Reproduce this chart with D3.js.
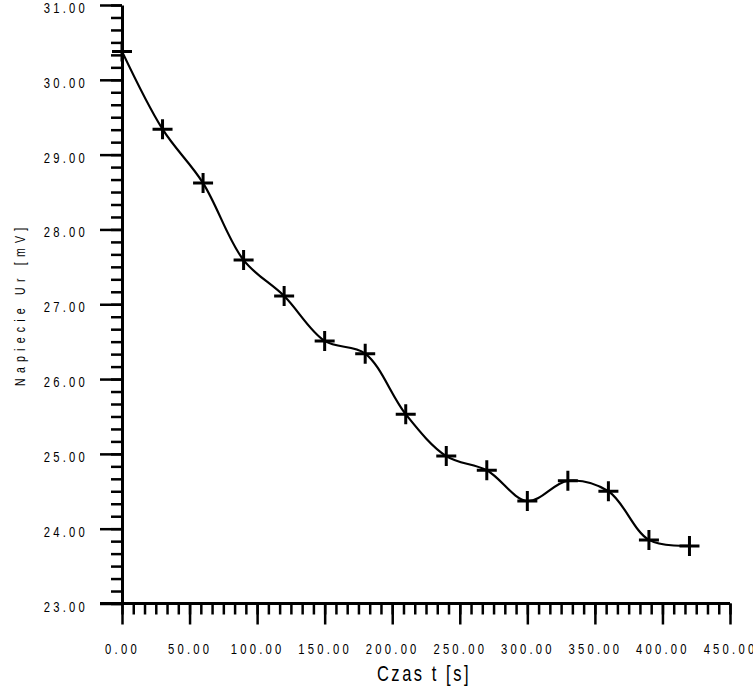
<!DOCTYPE html>
<html>
<head>
<meta charset="utf-8">
<script src="https://cdn.jsdelivr.net/npm/d3@7"></script>
<style>
  html, body { margin: 0; padding: 0; background: #fff; }
  svg { display: block; }
  .lbl { font-family: "Liberation Sans", Arial, sans-serif; fill: #000; }
</style>
</head>
<body>
<div id="vis"></div>
<script>
// measurement: time in seconds, voltage in mV
var times = [0, 30, 60, 90, 120, 150, 180, 210, 240, 270, 300, 330, 360, 390, 420];
var voltage = [30.38, 29.34, 28.62, 27.59, 27.11, 26.51, 26.34, 25.53, 24.97, 24.78, 24.37, 24.64, 24.50, 23.85, 23.77];

var xTicks = [0, 50, 100, 150, 200, 250, 300, 350, 400, 450];
var yTicks = [23, 24, 25, 26, 27, 28, 29, 30, 31];

var xTitle = "Czas t [s]";
var yTitle = "Napiecie Ur [mV]";

var width = 753, height = 686;
var narrow = 0.75;   // squeeze glyphs horizontally, the original font is condensed

var svg = d3.select("#vis").append("svg")
  .attr("width", width)
  .attr("height", height);

var x = d3.scaleLinear().domain([0, 450]).range([122, 730]);
var y = d3.scaleLinear().domain([23, 31]).range([603.5, 5]);

var fmt = d3.format(".2f");

// minor ticks, 6 per interval
var xMinor = d3.range(0, 55).map(function(i) { return i * 50 / 6; });
var yMinor = d3.range(0, 49).map(function(i) { return 23 + i / 6; });

// y axis minor
svg.append("g")
  .attr("transform", "translate(" + x(0) + ",0)")
  .call(d3.axisLeft(y).tickValues(yMinor).tickSize(11).tickSizeOuter(0).tickFormat(""))
  .call(function(g) { g.select(".domain").remove(); })
  .selectAll("line").attr("stroke", "#000").attr("stroke-width", 2.5);

// y axis major
var gy = svg.append("g")
  .attr("transform", "translate(" + x(0) + ",0)")
  .call(d3.axisLeft(y).tickValues(yTicks).tickSize(22).tickSizeOuter(0).tickPadding(12).tickFormat(fmt));
gy.select(".domain").attr("stroke", "#000").attr("stroke-width", 3);
gy.selectAll("line").attr("stroke", "#000").attr("stroke-width", 2.5);
gy.selectAll("text")
  .attr("class", "lbl")
  .attr("font-size", 15)
  .attr("x", null)
  .attr("dy", "0.5em")
  .attr("transform", "translate(-34,0) scale(" + narrow + ",1)")
  .style("letter-spacing", "4.3px");

// x axis minor
svg.append("g")
  .attr("transform", "translate(0," + y(23) + ")")
  .call(d3.axisBottom(x).tickValues(xMinor).tickSize(11).tickSizeOuter(0).tickFormat(""))
  .call(function(g) { g.select(".domain").remove(); })
  .selectAll("line").attr("stroke", "#000").attr("stroke-width", 2.5);

// x axis major
var gx = svg.append("g")
  .attr("transform", "translate(0," + y(23) + ")")
  .call(d3.axisBottom(x).tickValues(xTicks).tickSize(21).tickSizeOuter(0).tickPadding(19).tickFormat(fmt));
gx.select(".domain").remove();
gx.selectAll("line").attr("stroke", "#000").attr("stroke-width", 2.5);
gx.selectAll("text")
  .attr("class", "lbl")
  .attr("font-size", 15)
  .attr("y", null)
  .attr("transform", "translate(0,40) scale(" + narrow + ",1)")
  .style("letter-spacing", "4.3px");

// x axis base line, reaching left to the y major tick
svg.append("line")
  .attr("x1", x(0) - 22).attr("x2", x(450))
  .attr("y1", y(23)).attr("y2", y(23))
  .attr("stroke", "#000").attr("stroke-width", 3);

// titles
svg.append("text")
  .attr("class", "lbl")
  .attr("transform", "translate(" + ((x(0) + x(450)) / 2 - 2) + ",681) scale(" + narrow + ",1)")
  .attr("text-anchor", "middle")
  .attr("font-size", 22)
  .style("letter-spacing", "3.4px")
  .text(xTitle);

svg.append("text")
  .attr("class", "lbl")
  .attr("transform", "translate(25," + ((y(23) + y(31)) / 2) + ") rotate(-90) scale(" + narrow + ",1)")
  .attr("text-anchor", "middle")
  .attr("font-size", 14)
  .style("letter-spacing", "7px")
  .text(yTitle);

// smooth curve
var data = times.map(function(t, i) { return {t: t, v: voltage[i]}; });

var line = d3.line()
  .x(function(d) { return x(d.t); })
  .y(function(d) { return y(d.v); })
  .curve(d3.curveCatmullRom.alpha(0.5));

svg.append("path")
  .datum(data)
  .attr("d", line)
  .attr("fill", "none")
  .attr("stroke", "#000")
  .attr("stroke-width", 2.2);

// plus markers
svg.selectAll(".mark")
  .data(data)
  .enter().append("path")
    .attr("class", "mark")
    .attr("d", function(d) {
      var px = x(d.t), py = y(d.v);
      return "M" + (px - 10) + "," + py + "H" + (px + 10) + "M" + px + "," + (py - 10) + "V" + (py + 10);
    })
    .attr("stroke", "#000")
    .attr("stroke-width", 3)
    .attr("fill", "none");
</script>
</body>
</html>
